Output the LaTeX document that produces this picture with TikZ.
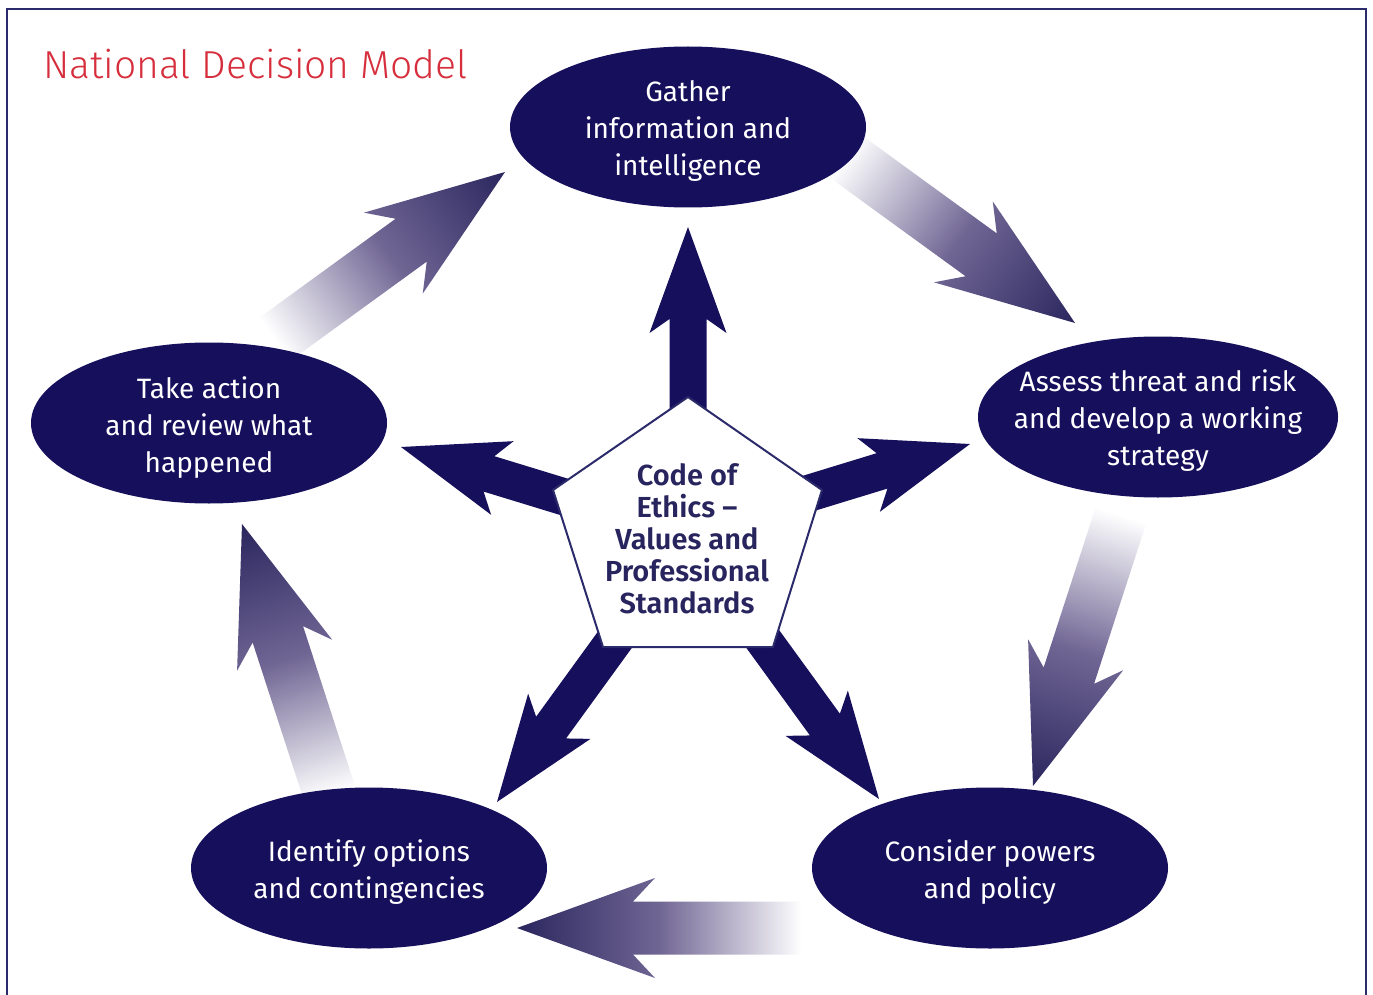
\documentclass[tikz,border=0pt]{standalone}
\usepackage{fontspec}
\setmainfont{Fira Sans}
\newfontfamily\firalight{Fira Sans Light}
\newfontfamily\firasemi{Fira Sans SemiBold}
\usetikzlibrary{shapes.geometric}

\definecolor{navy}{RGB}{22,15,92}
\definecolor{framecol}{RGB}{43,42,106}
\definecolor{titlered}{RGB}{214,46,60}
\definecolor{pentext}{RGB}{40,36,94}
\definecolor{arrowdark}{RGB}{42,38,94}
\definecolor{arrowmid}{RGB}{112,102,148}

\tikzset{
  stagebox/.style={ellipse, fill=navy, draw=none, minimum width=356pt, minimum height=161pt, inner sep=0pt},
  stagetext/.style={text=white, align=center, inner sep=0pt, yshift=-4pt, font=\fontsize{28}{37}\selectfont},
  fadefill/.style={left color=arrowdark, right color=white, middle color=arrowmid},
  corefill/.style={fill=navy},
}

\newcommand{\fadearrow}[3]{%
  \begin{scope}[transform canvas={shift={(#1,#2)}, rotate=#3}]
    \shade[fadefill] (0,0) -- (138,50) -- (116,26.5) -- (285,26.5) -- (285,-26.5) -- (116,-26.5) -- (138,-50) -- cycle;
  \end{scope}}
\newcommand{\corearrow}[3]{%
  \begin{scope}[shift={(#1,#2)}, rotate=#3]
    \fill[corefill] (0,0) -- (106,38.5) -- (92,18.5) -- (250,18.5) -- (250,-18.5) -- (92,-18.5) -- (106,-38.5) -- cycle;
  \end{scope}}

\begin{document}
\begin{tikzpicture}[x=1pt, y=-1pt]
  \useasboundingbox (0,0) rectangle (1373,995);
  \fill[white] (0,0) rectangle (1373,995);
  % frame
  \draw[framecol, line width=2.5pt] (7,1010) -- (7,9) -- (1366,9) -- (1366,1010);
  % title
  \node[anchor=base west, text=titlered, inner sep=0pt, font=\firalight\fontsize{39}{45}\selectfont] (title) at (43,79) {National Decision Model};

  % cycle arrows (gradient)
  \fadearrow{505}{172}{-144}
  \fadearrow{1075}{323}{144}
  \fadearrow{1033}{786}{72}
  \fadearrow{517}{928}{0}
  \fadearrow{242}{524}{-72}

  % central arrows
  \corearrow{688}{227}{-90}
  \corearrow{401}{447}{-17}
  \corearrow{970}{444}{-163}
  \corearrow{497}{802}{54}
  \corearrow{879}{799}{126}

  % pentagon
  \coordinate (p1) at (688,397);
  \coordinate (p2) at (822,490);
  \coordinate (p3) at (773,647);
  \coordinate (p4) at (603,647);
  \coordinate (p5) at (553,490);
  \draw[fill=white, draw=framecol, line width=2pt, line join=miter] (p1) -- (p2) -- (p3) -- (p4) -- (p5) -- cycle;
  \node[text=pentext, align=center, inner sep=0pt, font=\firasemi\fontsize{29}{32}\selectfont] (ethics) at (687,539) {Code of\\Ethics –\\Values and\\Professional\\Standards};

  % stages
  \node[stagebox] (gather) at (688,127) {};
  \node[stagetext] at (gather) {Gather\\information and\\intelligence};
  \node[stagebox, minimum width=360pt] (assess) at (1158,417) {};
  \node[stagetext] at (assess) {Assess threat and risk\\and develop a working\\strategy};
  \node[stagebox] (powers) at (990,868) {};
  \node[stagetext] at (powers) {Consider powers\\and policy};
  \node[stagebox] (options) at (369,868) {};
  \node[stagetext] at (options) {Identify options\\and contingencies};
  \node[stagebox] (action) at (209,423) {};
  \node[stagetext, yshift=-1pt] at (action) {Take action\\and review what\\happened};
\end{tikzpicture}
\end{document}
